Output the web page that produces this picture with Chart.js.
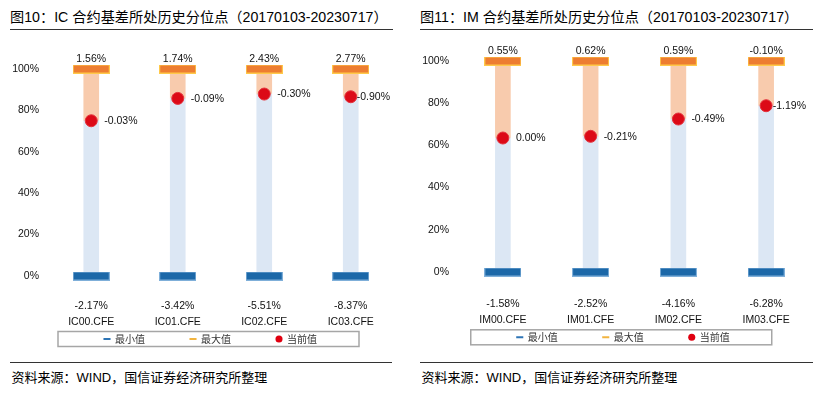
<!DOCTYPE html>
<html><head><meta charset="utf-8">
<script src="https://cdn.jsdelivr.net/npm/chart.js@4.4.0/dist/chart.umd.min.js"></script>
<style>
html,body{margin:0;padding:0;background:#fff;}
#wrap{position:relative;width:817px;height:406px;overflow:hidden;font-family:'Liberation Sans','Noto Sans CJK SC',sans-serif;}
.title{position:absolute;top:0;height:22px;padding-top:7px;line-height:20px;font-size:14.2px;color:#000;border-bottom:1.3px solid #333;white-space:nowrap;}
.src{position:absolute;top:362px;border-top:1.3px solid #333;padding-top:7px;padding-left:1.5px;font-size:13px;line-height:16px;color:#000;white-space:nowrap;}
canvas{position:absolute;top:0;}
</style></head><body>
<div id="wrap">
<div class="title" style="left:10px;width:383px">图10：IC 合约基差所处历史分位点（20170103-20230717）</div>
<div class="title" style="left:420px;width:393px">图11：IM 合约基差所处历史分位点（20170103-20230717）</div>
<div class="src" style="left:10px;width:380.5px">资料来源：WIND，国信证券经济研究所整理</div>
<div class="src" style="left:420px;width:391.5px">资料来源：WIND，国信证券经济研究所整理</div>
<canvas id="c1" width="410" height="401" style="left:0"></canvas>
<canvas id="c2" width="407" height="397" style="left:410px"></canvas>
</div>
<script>
// ---- data ----
const icCategories = ['IC00.CFE','IC01.CFE','IC02.CFE','IC03.CFE'];
const icMin = [-2.17, -3.42, -5.51, -8.37];
const icMax = [1.56, 1.74, 2.43, 2.77];
const icCur = [-0.03, -0.09, -0.30, -0.90];
const icPercentile = [75.0, 85.8, 87.9, 86.6];

const imCategories = ['IM00.CFE','IM01.CFE','IM02.CFE','IM03.CFE'];
const imMin = [-1.58, -2.52, -4.16, -6.28];
const imMax = [0.55, 0.62, 0.59, -0.10];
const imCur = [0.00, -0.21, -0.49, -1.19];
const imPercentile = [63.5, 64.3, 72.5, 78.8];

const yTicks = [0, 20, 40, 60, 80, 100];
const legendNames = ['最小值','最大值','当前值'];

// ---- helpers ----
const fmt = v => v.toFixed(2) + '%';
function dashImage(fill, border){
  const c = document.createElement('canvas'); c.width = 37; c.height = 9;
  const g = c.getContext('2d');
  g.fillStyle = border; g.fillRect(0,0,37,9);
  g.fillStyle = fill; g.fillRect(1,1,35,7);
  return c;
}
const minImg = dashImage('#1C68A8', '#7FAFD9');
const maxImg = dashImage('#ED7D31', '#FFC94A');
const LABEL_FONT = "10.5px 'Liberation Sans', Arial, sans-serif";

const labelPlugin = {
  id: 'valueLabels',
  afterLayout(chart, args, opts){
    const lg = chart.legend;
    if (!lg) return;
    lg.left += opts.dx; lg.right += opts.dx;
    lg.top += opts.dy; lg.bottom += opts.dy;
  },
  afterDatasetsDraw(chart, args, opts){
    const ctx = chart.ctx, xs = chart.scales.x, ys = chart.scales.y, area = chart.chartArea;
    ctx.save();
    ctx.font = LABEL_FONT; ctx.fillStyle = '#111'; ctx.textBaseline = 'middle';
    opts.maxV.forEach((v,i)=>{
      ctx.textAlign = 'center';
      ctx.fillText(fmt(v), xs.getPixelForValue(i), ys.getPixelForValue(100) - 10);
    });
    opts.curV.forEach((v,i)=>{
      const t = fmt(v), w = ctx.measureText(t).width;
      let x = xs.getPixelForValue(i) + 13;
      x = Math.min(x, area.right - w - 4);
      ctx.textAlign = 'left';
      ctx.fillText(t, x, ys.getPixelForValue(opts.pct[i]) + 0.5);
    });
    ctx.restore();
  },
  afterDraw(chart){
    const hb = chart.legend && chart.legend.legendHitBoxes;
    if (!hb || !hb.length) return;
    const ctx = chart.ctx;
    const l = hb[0].left - 46, r = hb[hb.length-1].left + hb[hb.length-1].width + 42;
    const cy = hb[0].top + hb[0].height/2;
    ctx.save();
    ctx.strokeStyle = '#A6A6A6'; ctx.lineWidth = 1.5;
    ctx.strokeRect(l, cy - 7.5, r - l, 15);
    ctx.restore();
  }
};

function build(id, cats, minV, maxV, curV, pct, L){
  const labels = cats.map((c,i)=>[fmt(minV[i]), c]);
  new Chart(document.getElementById(id), {
    type: 'bar',
    data: { labels, datasets: [
      {type:'bar', label:'低位区间', data: pct.map(p=>[0,p]), backgroundColor:'#DCE7F4', barThickness:15, grouped:false, order:4},
      {type:'bar', label:'高位区间', data: pct.map(p=>[p,100]), backgroundColor:'#F8CBAD', barThickness:15, grouped:false, order:4},
      {type:'line', label:legendNames[0], data: cats.map(()=>yTicks[0]), showLine:false, pointStyle:minImg, pointRadius:6, clip:false, order:2},
      {type:'line', label:legendNames[1], data: cats.map(()=>yTicks[yTicks.length-1]), showLine:false, pointStyle:maxImg, pointRadius:6, clip:false, order:2},
      {type:'line', label:legendNames[2], data: pct, showLine:false, pointStyle:'circle', pointRadius:6, backgroundColor:'#DC0A17', borderColor:'#E5323C', borderWidth:1, clip:false, order:1}
    ]},
    options: {
      responsive:false, animation:false,
      layout:{padding:{left:L.padL, right:L.padR, top:L.padT, bottom:0}},
      scales:{
        x:{offset:true, grid:{display:false, drawTicks:false}, border:{display:false},
           ticks:{padding:L.xPad, maxRotation:0, autoSkip:false, color:'#111', font:{family:"'Liberation Sans', Arial, sans-serif", size:10.5, lineHeight:1.5}},
           afterFit: s => { s.height = 60; }},
        y:{min:0, max:100, grid:{display:false, drawTicks:false}, border:{display:false},
           afterBuildTicks: s => { s.ticks = yTicks.map(v=>({value:v})); },
           ticks:{padding:L.yPad, callback: v => v + '%', color:'#111', font:{family:"'Liberation Sans', Arial, sans-serif", size:10.5}},
           afterFit: s => { s.width = L.yW; }}
      },
      plugins:{
        tooltip:{enabled:false},
        valueLabels:{maxV, curV, pct, dx:L.dx, dy:L.dy},
        legend:{position:'bottom', labels:{
          usePointStyle:true, boxWidth:6, boxHeight:5, padding:45, color:'#333',
          font:{family:"'Noto Sans CJK SC', sans-serif", size:10},
          generateLabels: () => [
            {text:legendNames[0], pointStyle:'line', strokeStyle:'#2E75B6', fillStyle:'#2E75B6', lineWidth:2, datasetIndex:2, hidden:false, fontColor:'#333'},
            {text:legendNames[1], pointStyle:'line', strokeStyle:'#F2B440', fillStyle:'#F2B440', lineWidth:2, datasetIndex:3, hidden:false, fontColor:'#333'},
            {text:legendNames[2], pointStyle:'circle', strokeStyle:'#E00010', fillStyle:'#E00010', lineWidth:0, datasetIndex:4, hidden:false, fontColor:'#333'}
          ]
        }}
      }
    },
    plugins:[labelPlugin]
  });
}

build('c1', icCategories, icMin, icMax, icCur, icPercentile,
  {padL:12, padR:16, padT:69, yW:36, yPad:9, xPad:22, dx:7.5, dy:-47});
build('c2', imCategories, imMin, imMax, imCur, imPercentile,
  {padL:12, padR:4.5, padT:61, yW:37, yPad:10, xPad:24.5, dx:6, dy:-44.7});
</script>
</body></html>
